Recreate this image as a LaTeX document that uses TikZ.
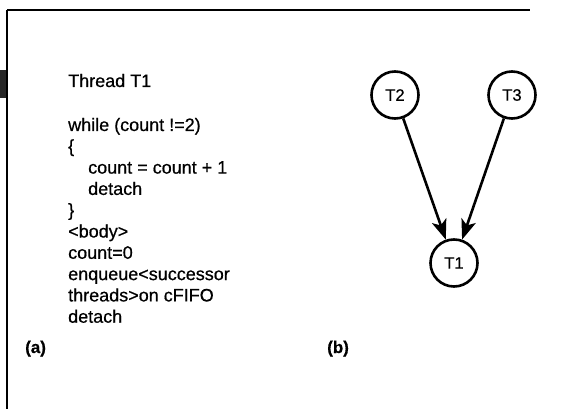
\documentclass[tikz,border=0pt]{standalone}
\usepackage{fontspec}
\setmainfont{Liberation Sans}[FakeBold=0.6]
\usetikzlibrary{arrows.meta}

\begin{document}
\begin{tikzpicture}[
  x=1pt, y=-1pt,
  every node/.style={inner sep=0pt},
  codeline/.style={anchor=base west, font=\fontsize{18}{21}\selectfont},
  thread/.style={circle, draw, line width=2.6pt, minimum size=47pt,
    font=\fontsize{16.5}{18}\selectfont},
  panel/.style={anchor=base west, font=\fontsize{17}{20}\selectfont\bfseries},
  dep/.style={draw, line width=2.6pt, -{Stealth[length=20pt,width=15pt,inset=5pt]}}
]
\useasboundingbox (0,0) rectangle (565,409);
% frame of the figure
\draw[line width=2.6pt] (7,10) -- (530,10);
\draw[line width=2pt] (7,10) -- (7,409);
\fill[black!85] (0,70) rectangle (6,98);

% (a) thread code
\node[codeline] (title) at (68,87) {Thread T1};
\foreach \txt [count=\i] in {while (count !=2), \{,
    \hspace*{20pt}count = count + 1, \hspace*{20pt}detach, \},
    <body>, count=0, enqueue<successor, threads>on cFIFO, detach}
  \node[codeline] (line\i) at (68,{131+(\i-1)*21.3}) {\txt};
\node[panel] (pa) at (25,353) {(a)};

% (b) dependence graph
\node[thread] (T2) at (395,95) {T2};
\node[thread] (T3) at (512,95) {T3};
\node[thread] (T1) at (454,263) {T1};
\draw[dep] (T2) -- (T1);
\draw[dep] (T3) -- (T1);
\node[panel] (pb) at (327,353) {(b)};
\end{tikzpicture}
\end{document}
